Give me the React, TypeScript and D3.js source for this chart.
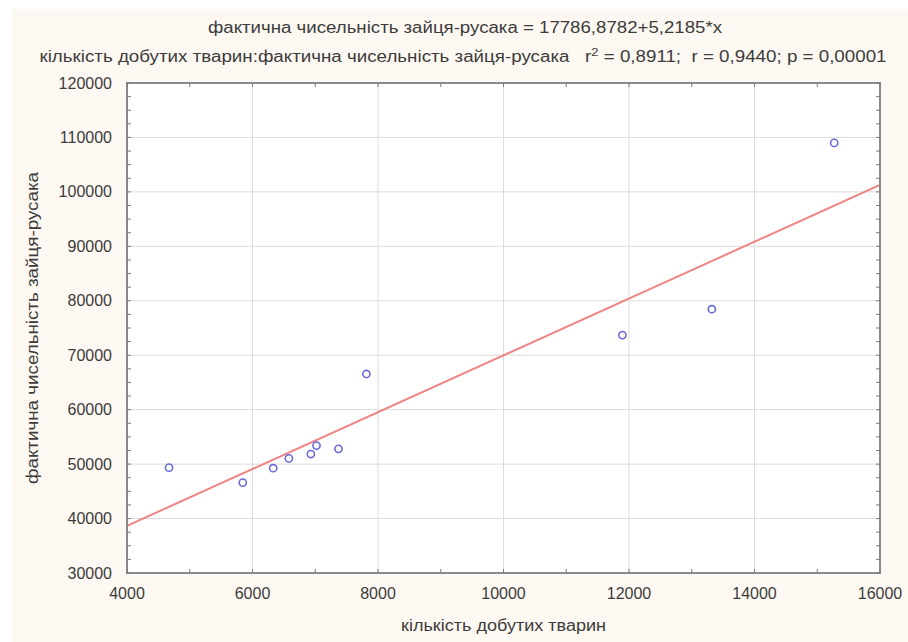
import React from "react";
import * as d3 from "d3";

const xValues = [4670, 5845, 6330, 6580, 6930, 7020, 7370, 7815, 11895, 13320, 15270];
const yValues = [49350, 46600, 49250, 51050, 51850, 53400, 52800, 66550, 73700, 78450, 109000];
const intercept = 17786.8782;
const slope = 5.2185;
const xTicks = [4000, 6000, 8000, 10000, 12000, 14000, 16000];
const yTicks = [30000, 40000, 50000, 60000, 70000, 80000, 90000, 100000, 110000, 120000];
const titleText = "фактична чисельність зайця-русака = 17786,8782+5,2185*x";
const subtitleA = "кількість добутих тварин:фактична чисельність зайця-русака   r";
const subtitleB = " = 0,8911;  r = 0,9440; p = 0,00001";
const xTitle = "кількість добутих тварин";
const yTitle = "фактична чисельність зайця-русака";

const W = 908, H = 642;
const L = 127, R = 880, T = 83, B = 573;
const FONT = "'Liberation Sans', Arial, sans-serif";
const TEXT = "#3c3c3c";

export default function App() {
  const x = d3.scaleLinear().domain([4000, 16000]).range([L, R]);
  const y = d3.scaleLinear().domain([30000, 120000]).range([B, T]);
  const xMinor = d3.range(4000, 16001, 1000);
  const yMinor = d3.range(30000, 120001, 2500);
  const line = d3.line<number>().x((v) => x(v)).y((v) => y(intercept + slope * v));
  const pts = xValues.map((v, i) => ({ x: v, y: yValues[i] }));
  return (
    <svg width={W} height={H} style={{ position: "absolute", left: 0, top: 0 }} fontFamily={FONT}>
      <rect x={0} y={0} width={W} height={H} fill="#ffffff" />
      <rect x={12} y={9} width={W - 12} height={H - 9} fill="#fdf8f1" />
      <rect x={L} y={T} width={R - L} height={B - T} fill="#ffffff" />
      <defs>
        <clipPath id="plot">
          <rect x={L} y={T} width={R - L} height={B - T} />
        </clipPath>
      </defs>
      {xTicks.slice(1, -1).map((t) => (
        <line key={"gx" + t} x1={x(t)} x2={x(t)} y1={T} y2={B} stroke="#dcdcdc" strokeWidth={1} />
      ))}
      {yTicks.slice(1, -1).map((t) => (
        <line key={"gy" + t} x1={L} x2={R} y1={y(t)} y2={y(t)} stroke="#dcdcdc" strokeWidth={1} />
      ))}
      <path d={line([4000, 16000]) || ""} stroke="#ef8585" strokeWidth={2} fill="none" clipPath="url(#plot)" />
      {pts.map((p, i) => (
        <circle key={i} cx={x(p.x)} cy={y(p.y)} r={3.6} fill="none" stroke="#6a6ad8" strokeWidth={1.6} />
      ))}
      <rect x={L} y={T} width={R - L} height={B - T} fill="none" stroke="#8a8a8a" strokeWidth={2} />
      {xMinor.map((t) => (
        <g key={"tx" + t}>
          <line x1={x(t)} x2={x(t)} y1={B} y2={B - 4} stroke="#7a7a7a" strokeWidth={1} />
          <line x1={x(t)} x2={x(t)} y1={T} y2={T + 4} stroke="#7a7a7a" strokeWidth={1} />
        </g>
      ))}
      {yMinor.map((t) => (
        <g key={"ty" + t}>
          <line x1={L} x2={L + 4} y1={y(t)} y2={y(t)} stroke="#7a7a7a" strokeWidth={1} />
          <line x1={R} x2={R - 4} y1={y(t)} y2={y(t)} stroke="#7a7a7a" strokeWidth={1} />
        </g>
      ))}
      {xTicks.map((t) => (
        <text key={"lx" + t} x={x(t)} y={599} textAnchor="middle" fontSize={16} fill={TEXT}>
          {t}
        </text>
      ))}
      {yTicks.map((t) => (
        <text key={"ly" + t} x={112} y={y(t)} dy="0.35em" textAnchor="end" fontSize={16} fill={TEXT}>
          {t}
        </text>
      ))}
      <text x={465} y={33} textAnchor="middle" fontSize={16} fill={TEXT} textLength={514} lengthAdjust="spacingAndGlyphs">
        {titleText}
      </text>
      <text x={463} y={62} textAnchor="middle" fontSize={16} fill={TEXT} style={{ whiteSpace: "pre" }} textLength={847} lengthAdjust="spacingAndGlyphs">
        {subtitleA}
        <tspan fontSize={11} dy={-6}>2</tspan>
        <tspan dy={6}>{subtitleB}</tspan>
      </text>
      <text x={(L + R) / 2} y={631} textAnchor="middle" fontSize={16} fill={TEXT} textLength={205} lengthAdjust="spacingAndGlyphs">
        {xTitle}
      </text>
      <text transform={`translate(38,${(T + B) / 2}) rotate(-90)`} textAnchor="middle" fontSize={16} fill={TEXT} textLength={312} lengthAdjust="spacingAndGlyphs">
        {yTitle}
      </text>
    </svg>
  );
}
